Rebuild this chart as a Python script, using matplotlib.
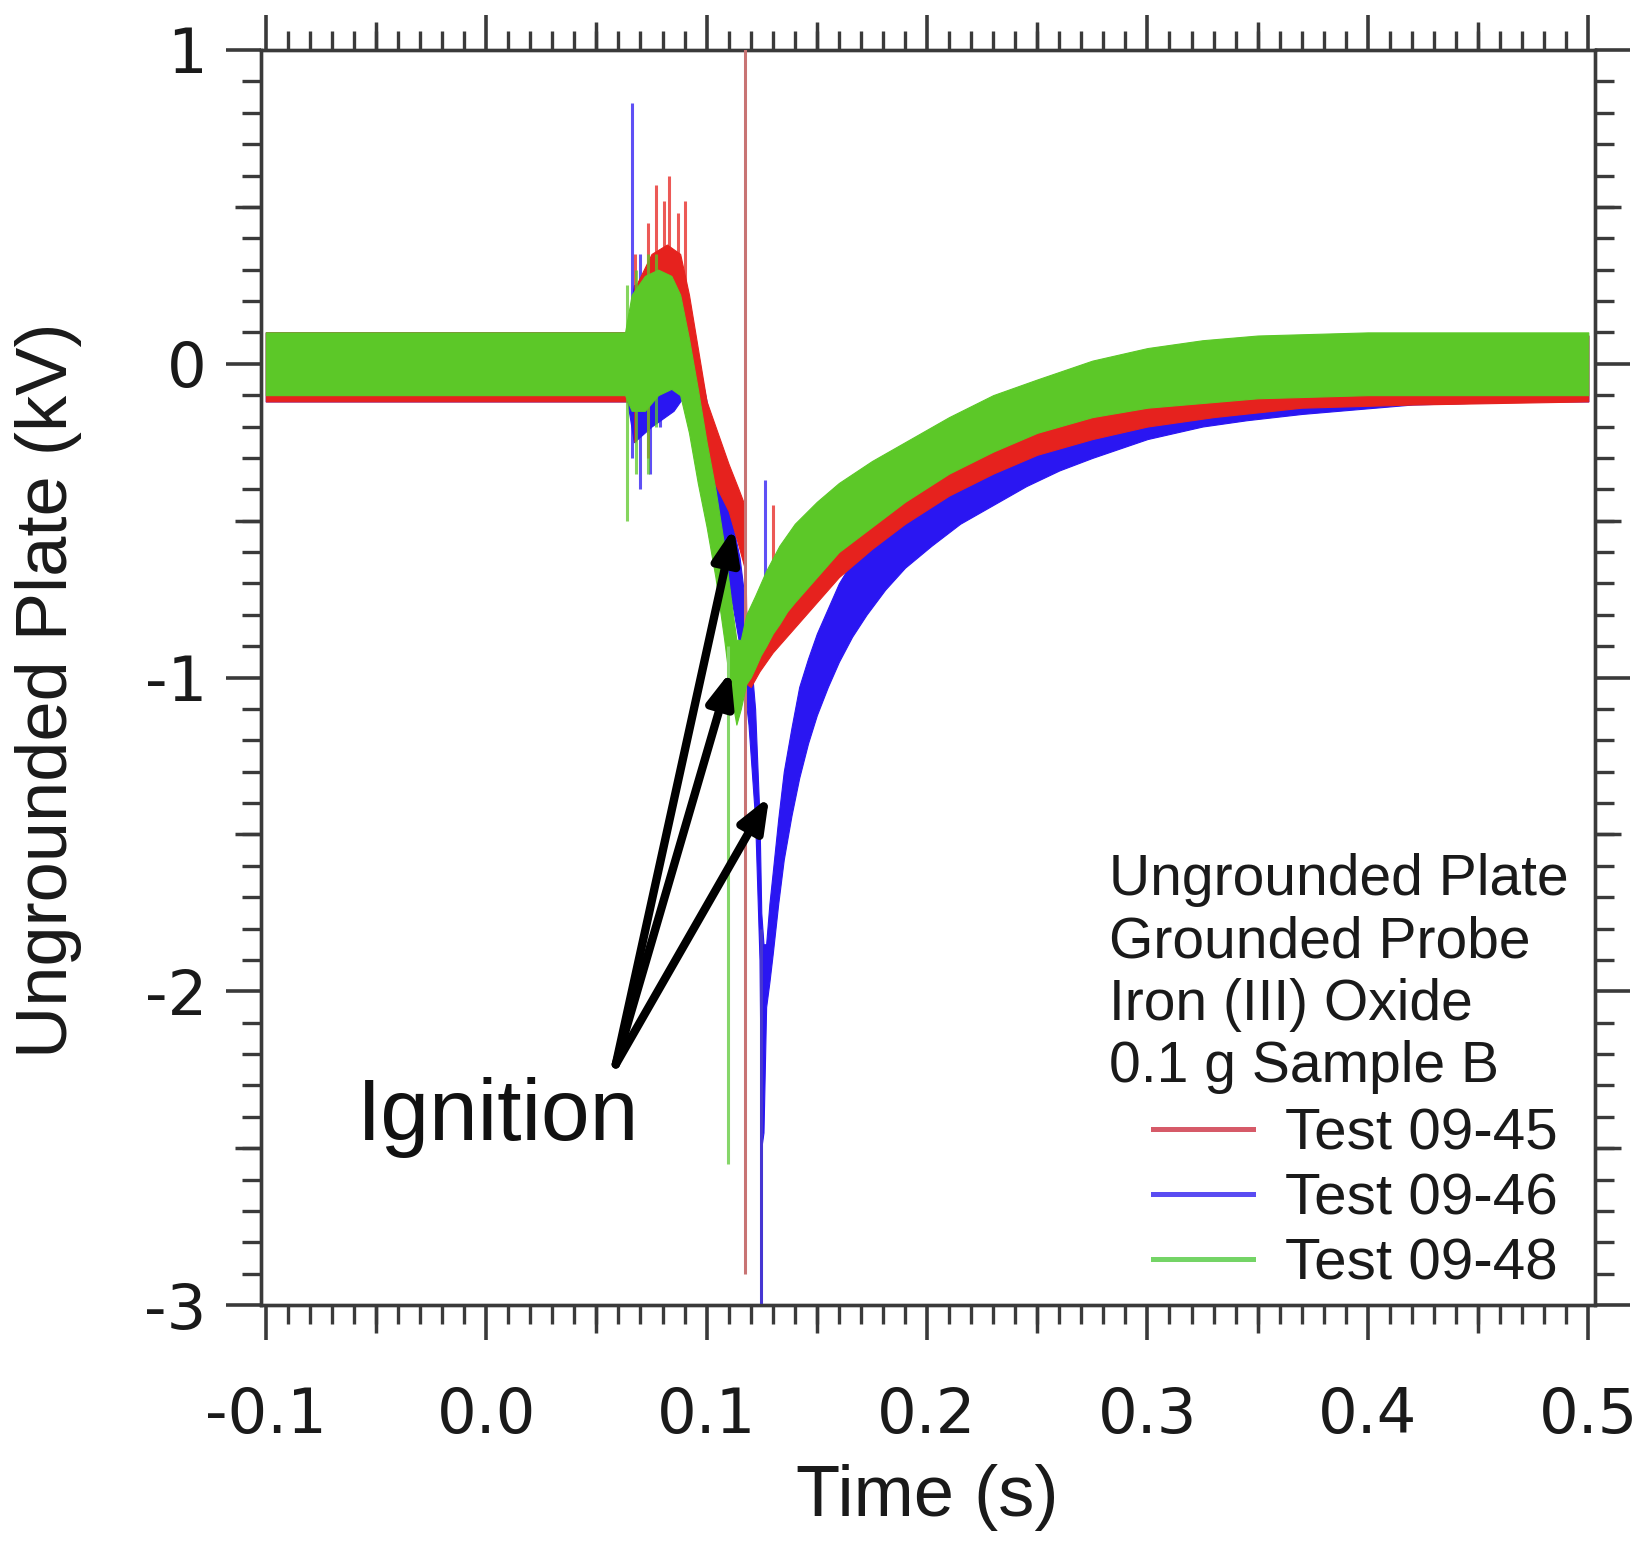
import matplotlib
matplotlib.use("Agg")
import matplotlib.pyplot as plt
from matplotlib.ticker import MultipleLocator, NullFormatter, FixedLocator, FixedFormatter
from matplotlib.lines import Line2D

plt.rcParams['axes.unicode_minus'] = False

# ---------------- data ----------------
series_names = ["Test 09-45", "Test 09-46", "Test 09-48"]
series_colors = ["#e6221e", "#2a16f2", "#5cc828"]
legend_colors = ["#d65a68", "#5a4cf2", "#74d466"]
spike_colors = ["#c87474", "#4636d2", "#86d66a"]

header_lines = ["Ungrounded Plate", "Grounded Probe", "Iron (III) Oxide", "0.1 g Sample B"]

x_ticks = [-0.1, 0.0, 0.1, 0.2, 0.3, 0.4, 0.5]
x_tick_labels = ["-0.1", "0.0", "0.1", "0.2", "0.3", "0.4", "0.5"]
x_mid_ticks = [-0.05, 0.05, 0.15, 0.25, 0.35, 0.45]
y_ticks = [-3, -2, -1, 0, 1]
y_tick_labels = ["-3", "-2", "-1", "0", "1"]
y_mid_ticks = [-2.5, -1.5, -0.5, 0.5]

# Test 09-45 (red) noise envelope
red_t = [-0.100, 0.064, 0.068, 0.075, 0.082, 0.088, 0.092, 0.096, 0.100, 0.105, 0.110, 0.1145,
         0.1172, 0.1180, 0.1200, 0.1240, 0.1270, 0.1300, 0.1350, 0.1400, 0.1450, 0.1500, 0.1550,
         0.1600, 0.1675, 0.1750, 0.1825, 0.1900, 0.2000, 0.2100, 0.2200, 0.2300, 0.2400, 0.2500,
         0.2625, 0.2750, 0.2875, 0.3000, 0.3300, 0.3700, 0.4200, 0.5000]
red_lo = [-0.12, -0.12, -0.15, -0.05, 0.00, 0.02, -0.08, -0.20, -0.32, -0.40, -0.47, -0.58,
          -0.65, -1.02, -1.03, -0.98, -0.95, -0.92, -0.88, -0.84, -0.80, -0.76, -0.72,
          -0.68, -0.635, -0.59, -0.55, -0.51, -0.465, -0.42, -0.385, -0.35, -0.32, -0.29,
          -0.265, -0.24, -0.22, -0.20, -0.17, -0.14, -0.13, -0.12]
red_hi = [0.10, 0.10, 0.25, 0.35, 0.38, 0.35, 0.22, 0.05, -0.12, -0.22, -0.32, -0.40,
          -0.45, -0.80, -0.85, -0.80, -0.76, -0.72, -0.67, -0.62, -0.585, -0.55, -0.515,
          -0.48, -0.44, -0.40, -0.365, -0.33, -0.295, -0.26, -0.23, -0.20, -0.175, -0.15,
          -0.125, -0.10, -0.08, -0.06, -0.02, 0.03, 0.06, 0.09]

# Test 09-46 (blue) noise envelope
blue_t = [-0.100, 0.064, 0.067, 0.075, 0.085, 0.090, 0.095, 0.100, 0.105, 0.110, 0.115, 0.119,
          0.122, 0.1240, 0.1248, 0.1258, 0.1270, 0.1285, 0.1300, 0.1325, 0.1350, 0.1385, 0.1420,
          0.1460, 0.1500, 0.1550, 0.1600, 0.1660, 0.1725, 0.1810, 0.1900, 0.2020, 0.2150, 0.2300,
          0.2450, 0.2600, 0.2750, 0.2875, 0.3000, 0.3250, 0.3450, 0.3700, 0.4200, 0.4700, 0.5000]
blue_lo = [-0.12, -0.12, -0.25, -0.20, -0.15, -0.10, -0.25, -0.40, -0.55, -0.70, -0.90, -1.15,
           -1.45, -1.90, -2.50, -2.45, -2.05, -1.97, -1.88, -1.72, -1.58, -1.44, -1.32,
           -1.21, -1.12, -1.03, -0.95, -0.87, -0.80, -0.72, -0.65, -0.58, -0.51, -0.45,
           -0.39, -0.34, -0.30, -0.27, -0.24, -0.20, -0.18, -0.16, -0.13, -0.12, -0.12]
blue_hi = [0.10, 0.10, 0.25, 0.28, 0.30, 0.25, 0.05, -0.12, -0.30, -0.45, -0.62, -0.85,
           -1.10, -1.45, -1.75, -1.85, -1.85, -1.72, -1.62, -1.45, -1.30, -1.16, -1.03,
           -0.94, -0.86, -0.78, -0.70, -0.63, -0.57, -0.51, -0.45, -0.39, -0.34, -0.29,
           -0.25, -0.21, -0.18, -0.155, -0.13, -0.08, -0.05, -0.02, 0.04, 0.08, 0.09]

# Test 09-48 (green) noise envelope
green_t = [-0.100, 0.063, 0.066, 0.072, 0.078, 0.084, 0.088, 0.092, 0.096, 0.100, 0.104, 0.108,
           0.111, 0.1135, 0.1155, 0.118, 0.120, 0.122, 0.1245, 0.127, 0.130, 0.133, 0.1365,
           0.140, 0.145, 0.150, 0.155, 0.160, 0.1675, 0.175, 0.1825, 0.190, 0.200, 0.210,
           0.220, 0.230, 0.240, 0.250, 0.2625, 0.275, 0.2875, 0.300, 0.325, 0.350, 0.400, 0.500]
green_lo = [-0.10, -0.10, -0.15, -0.15, -0.10, -0.08, -0.10, -0.22, -0.38, -0.52, -0.68, -0.88,
            -1.05, -1.15, -1.10, -1.02, -1.00, -0.97, -0.93, -0.90, -0.86, -0.83, -0.79,
            -0.76, -0.72, -0.68, -0.64, -0.60, -0.56, -0.52, -0.48, -0.44, -0.395, -0.35,
            -0.315, -0.28, -0.25, -0.22, -0.195, -0.17, -0.155, -0.14, -0.125, -0.11, -0.10, -0.10]
green_hi = [0.10, 0.10, 0.22, 0.28, 0.30, 0.28, 0.22, 0.08, -0.08, -0.25, -0.40, -0.58,
            -0.75, -0.88, -0.88, -0.80, -0.77, -0.74, -0.70, -0.66, -0.62, -0.58, -0.545,
            -0.51, -0.475, -0.44, -0.41, -0.38, -0.345, -0.31, -0.28, -0.25, -0.21, -0.17,
            -0.135, -0.10, -0.075, -0.05, -0.02, 0.01, 0.03, 0.05, 0.075, 0.09, 0.10, 0.10]

# discharge spikes: time, min, max
red_spk_t = [0.0675, 0.0735, 0.0770, 0.0805, 0.0830, 0.0870, 0.0900, 0.1300]
red_spk_lo = [-0.25, -0.30, -0.10, 0.00, -0.05, 0.00, 0.05, -0.70]
red_spk_hi = [0.35, 0.45, 0.57, 0.52, 0.60, 0.48, 0.52, -0.45]
blue_spk_t = [0.0660, 0.0700, 0.0745, 0.0790, 0.0860, 0.1265]
blue_spk_lo = [-0.30, -0.40, -0.35, -0.20, -0.10, -0.70]
blue_spk_hi = [0.83, 0.35, 0.25, 0.33, 0.30, -0.37]
green_spk_t = [0.0640, 0.0680, 0.0735, 0.0770]
green_spk_lo = [-0.50, -0.35, -0.35, -0.20]
green_spk_hi = [0.25, 0.30, 0.35, 0.35]

# long ignition discharge lines: time, min, max
red_long = (0.1175, -2.90, 1.05)
blue_long = (0.1246, -3.00, -1.80)
green_long = (0.1095, -2.55, -0.90)

# "Ignition" arrows
arrow_tail = (0.0588, -2.233)
arrow_heads = [(0.1123, -0.523), (0.1109, -0.980), (0.1284, -1.380)]
ignition_label = "Ignition"
ignition_pos = (-0.0586, -2.474)

# ---------------- figure ----------------
fig = plt.figure(figsize=(16.4, 15.43), dpi=100)
fig.patch.set_facecolor("white")
ax = fig.add_axes([0.1591, 0.1542, 0.8134, 0.8134])

bands = [(red_t, red_lo, red_hi), (blue_t, blue_lo, blue_hi), (green_t, green_lo, green_hi)]
spikes = [(red_spk_t, red_spk_lo, red_spk_hi), (blue_spk_t, blue_spk_lo, blue_spk_hi),
          (green_spk_t, green_spk_lo, green_spk_hi)]
longs = [red_long, blue_long, green_long]
zorders = [3, 2, 4]

for i in range(3):
    t, lo, hi = bands[i]
    z = zorders[i]
    ax.fill_between(t, lo, hi, color=series_colors[i], lw=0.8, edgecolor=series_colors[i], zorder=z)
    st, slo, shi = spikes[i]
    ax.vlines(st, slo, shi, color=series_colors[i], lw=2.2, alpha=0.75, zorder=z - 0.1)
    lt, llo, lhi = longs[i]
    ax.vlines([lt], [llo], [lhi], color=spike_colors[i], lw=2.2, zorder=z + 0.3)

# arrows
for hx, hy in arrow_heads:
    ax.annotate("", xy=(hx, hy), xytext=arrow_tail,
                arrowprops=dict(arrowstyle="-|>,head_length=0.55,head_width=0.22",
                                mutation_scale=36, lw=6.0, color="black",
                                shrinkA=0, shrinkB=0), zorder=6)

ax.text(ignition_pos[0], ignition_pos[1], ignition_label, fontsize=63,
        family="Liberation Sans", ha="left", va="baseline", color="#111111", zorder=7)

# header text of legend
for k, line in enumerate(header_lines):
    ax.text(0.6355, 0.3265 - k * 0.0496, line, transform=ax.transAxes,
            fontsize=41, family="Liberation Sans", ha="left", va="baseline", color="#1a1a1a")

handles = [Line2D([], [], color=legend_colors[i], lw=3.6) for i in range(3)]
leg = ax.legend(handles, series_names, loc="upper left", bbox_to_anchor=(0.6687, 0.1573),
                frameon=False, borderpad=0, borderaxespad=0, handlelength=1.72,
                handletextpad=0.54, labelspacing=0.19,
                prop=dict(family="Liberation Sans", size=42))
for txt in leg.get_texts():
    txt.set_color("#1a1a1a")

# axes styling
ax.set_xlim(-0.1022, 0.503)
ax.set_ylim(-3.0, 1.0)

spine_col = "#3a3a3a"
for s in ax.spines.values():
    s.set_linewidth(2.4)
    s.set_color(spine_col)

ax.xaxis.set_major_locator(FixedLocator(x_ticks))
ax.xaxis.set_major_formatter(FixedFormatter(x_tick_labels))
ax.xaxis.set_minor_locator(MultipleLocator(0.01))
ax.yaxis.set_major_locator(FixedLocator(y_ticks))
ax.yaxis.set_major_formatter(FixedFormatter(y_tick_labels))
ax.yaxis.set_minor_locator(MultipleLocator(0.1))

ax.tick_params(which="both", direction="out", top=True, right=True, color=spine_col)
ax.tick_params(which="major", length=25, width=2.6)
ax.tick_params(which="minor", length=14, width=2.4)
ax.tick_params(axis="x", which="major", pad=33)
ax.tick_params(axis="y", which="major", pad=14)
for lab in ax.get_xticklabels() + ax.get_yticklabels():
    lab.set_fontfamily("DejaVu Sans")
    lab.set_fontsize(45)
    lab.set_color("#1a1a1a")

# medium ticks at the half-steps
for loc in ["bottom", "top"]:
    sec = ax.secondary_xaxis(loc)
    sec.xaxis.set_major_locator(FixedLocator(x_mid_ticks))
    sec.xaxis.set_major_formatter(NullFormatter())
    sec.tick_params(direction="out", length=20, width=2.5, color=spine_col)
    sec.spines[loc].set_color(spine_col)
    sec.spines[loc].set_linewidth(2.4)
for loc in ["left", "right"]:
    sec = ax.secondary_yaxis(loc)
    sec.yaxis.set_major_locator(FixedLocator(y_mid_ticks))
    sec.yaxis.set_major_formatter(NullFormatter())
    sec.tick_params(direction="out", length=19, width=2.5, color=spine_col)
    sec.spines[loc].set_color(spine_col)
    sec.spines[loc].set_linewidth(2.4)

ax.set_xlabel("Time (s)", fontsize=52, family="Liberation Sans", color="#1a1a1a")
ax.set_ylabel("Ungrounded Plate (kV)", fontsize=52, family="Liberation Sans", color="#1a1a1a")
ax.xaxis.set_label_coords(0.4995, -0.127)
ax.yaxis.set_label_coords(-0.134, 0.49)

fig.savefig("out.png", dpi=100, facecolor="white")
